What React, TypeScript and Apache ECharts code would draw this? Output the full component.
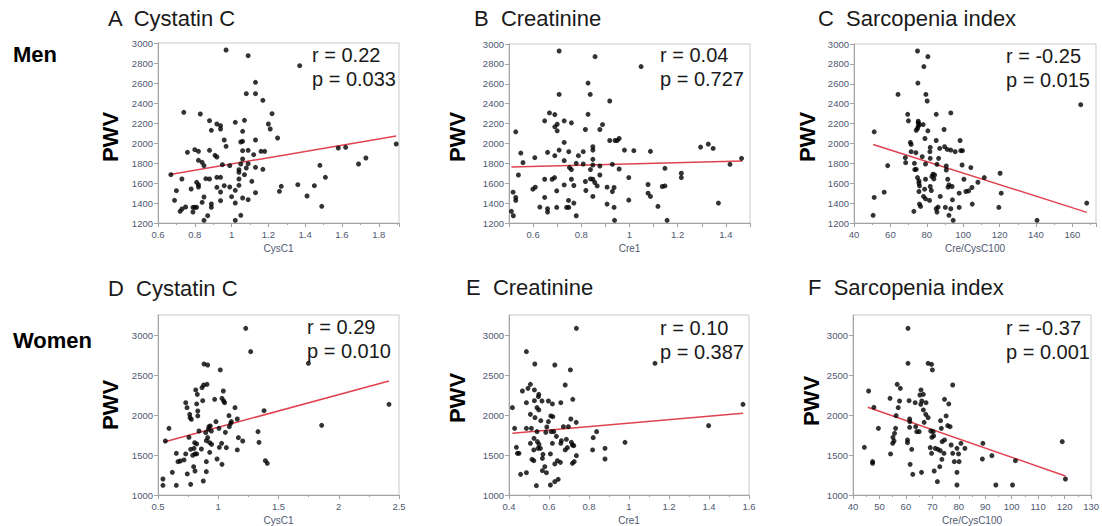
import React, { useEffect, useRef } from "react";
import * as echarts from "echarts";

// ---------- data ----------
const menCysC: number[][] = [[0.97,2930],[1.09,2873],[1.37,2773],[1.13,2607],[1.08,2493],[1.13,2493],[1.17,2427],[0.74,2307],[0.83,2290],[1.22,2293],[1.07,2227],[0.88,2223],[0.92,2190],[0.94,2173],[0.94,2140],[0.89,2127],[1.02,2207],[1.2,2190],[1.21,2140],[1.06,2117],[1.25,2050],[0.96,2030],[1.13,2030],[1.06,2017],[1.05,2010],[0.97,1967],[0.76,1907],[0.8,1933],[0.82,1917],[0.88,1927],[1.06,1923],[1.09,1927],[1.16,1917],[1.18,1917],[0.91,1877],[0.92,1860],[1.12,1883],[0.82,1827],[0.84,1807],[0.85,1773],[0.95,1783],[0.99,1773],[1.06,1840],[1.05,1790],[1.09,1793],[1.08,1750],[1.13,1757],[1.17,1737],[1.04,1707],[1.04,1733],[1.07,1683],[0.67,1683],[0.73,1640],[0.86,1643],[0.88,1640],[0.92,1657],[0.94,1657],[1.04,1640],[1.11,1617],[0.81,1607],[0.82,1583],[0.82,1560],[0.78,1540],[0.92,1557],[0.96,1573],[0.99,1560],[1.04,1577],[0.7,1523],[0.94,1510],[1.02,1527],[1.13,1503],[1.26,1517],[1.27,1567],[1.36,1583],[1.45,1573],[1.51,1657],[1.48,1777],[1.58,1950],[1.62,1957],[1.69,1790],[1.73,1850],[1.895,1990],[1.41,1470],[1.49,1367],[0.69,1427],[0.85,1460],[0.94,1423],[1.0,1463],[1.06,1450],[1.09,1433],[0.84,1407],[1.02,1400],[0.89,1390],[0.89,1357],[0.75,1360],[0.73,1340],[0.72,1317],[0.79,1357],[0.8,1357],[0.81,1357],[0.79,1310],[0.87,1273],[1.05,1277],[0.85,1227],[1.02,1227]];
const menCysCFit: number[][] = [[0.665,1685],[1.895,2070]];

const menCre: number[][] = [[0.708,2930],[0.857,2873],[1.048,2773],[0.828,2607],[0.708,2493],[0.837,2493],[0.918,2427],[0.668,2307],[0.69,2290],[0.828,2293],[0.648,2227],[0.729,2227],[0.759,2207],[0.7,2193],[0.69,2167],[0.7,2127],[0.888,2190],[0.817,2140],[0.877,2140],[0.528,2117],[0.918,2030],[0.729,2010],[0.94,2030],[0.957,2050],[0.949,2030],[0.848,1967],[0.848,1933],[0.979,1933],[1.018,1927],[1.087,1920],[0.708,1933],[0.66,1910],[0.748,1917],[0.808,1917],[0.549,1903],[0.607,1857],[0.69,1877],[0.788,1877],[1.295,1963],[1.327,1993],[1.347,1950],[1.465,1850],[1.417,1790],[0.558,1807],[0.729,1827],[0.779,1800],[0.808,1793],[0.848,1840],[0.848,1783],[0.929,1790],[0.877,1773],[0.751,1757],[0.759,1737],[0.838,1737],[0.957,1743],[1.147,1750],[0.877,1683],[0.539,1683],[1.215,1700],[1.215,1657],[0.997,1657],[0.648,1640],[0.679,1640],[0.689,1657],[0.759,1640],[0.817,1617],[0.838,1643],[0.848,1640],[0.856,1607],[0.866,1573],[0.729,1583],[0.769,1577],[1.077,1587],[1.136,1567],[1.147,1573],[0.599,1540],[0.609,1560],[0.698,1523],[0.819,1527],[0.907,1560],[0.936,1557],[0.929,1517],[1.077,1500],[1.087,1467],[0.517,1510],[0.528,1457],[0.528,1427],[0.648,1457],[0.848,1467],[0.997,1430],[0.747,1427],[0.769,1400],[0.907,1390],[1.118,1367],[1.369,1400],[0.628,1360],[0.66,1343],[0.66,1310],[0.698,1357],[0.739,1357],[0.748,1357],[0.936,1357],[0.51,1317],[0.518,1273],[0.779,1273],[0.938,1227],[1.156,1227]];
const menCreFit: number[][] = [[0.51,1763],[1.468,1823]];

const menIndex: number[][] = [[74.9,2930],[80.6,2873],[78.4,2773],[75.1,2607],[64.2,2493],[79.5,2493],[80.2,2427],[164.6,2390],[69.5,2293],[85.2,2293],[93.2,2307],[69.9,2227],[75.3,2223],[75.3,2207],[76,2190],[78,2190],[75.3,2173],[74.9,2150],[74.2,2133],[80.6,2127],[89.5,2140],[51.1,2117],[79,2050],[85.2,2030],[98.3,2030],[71,2010],[71.4,1990],[81.9,1960],[87.1,1950],[89.8,1967],[91.3,1940],[93.2,1933],[95.6,1917],[98.7,1927],[99.6,1927],[71.4,1917],[74,1907],[81.7,1917],[77.5,1867],[68.2,1857],[81.9,1850],[86.5,1850],[68.4,1807],[73.2,1800],[79.3,1793],[58.5,1777],[85.6,1790],[90.7,1773],[99.4,1783],[73.4,1737],[74.2,1740],[90.7,1733],[104.2,1757],[120.3,1700],[111.6,1657],[83.4,1690],[84.3,1683],[82.8,1667],[74.9,1657],[79.3,1640],[83.9,1643],[75.7,1623],[91.5,1640],[100.4,1640],[75.7,1600],[76,1573],[92.2,1583],[93.9,1567],[91.7,1560],[108.1,1610],[104.8,1557],[81.9,1567],[78.8,1540],[82.5,1527],[75.7,1517],[56.6,1510],[101.5,1517],[103,1523],[97.8,1500],[120.9,1500],[78.2,1467],[79.3,1443],[87.4,1467],[94.1,1433],[51.1,1457],[81.5,1427],[105,1390],[76,1390],[76.6,1367],[86.2,1360],[85.2,1343],[85.6,1310],[90.2,1357],[93.2,1343],[97.8,1357],[119.6,1357],[167.9,1400],[72.9,1317],[50.5,1277],[92.2,1277],[94.5,1227],[140.6,1227]];
const menIndexFit: number[][] = [[50.5,1990],[168,1307]];

const womenCysC: number[][] = [[1.228,3083],[1.269,2792],[1.748,2646],[0.882,2637],[0.912,2625],[1.017,2563],[0.813,2313],[1.042,2300],[0.865,2342],[0.879,2375],[0.907,2383],[0.826,2258],[0.73,2154],[0.821,2138],[0.871,2179],[0.97,2196],[1.031,2208],[1.045,2175],[1.053,2154],[1.139,2092],[0.741,2092],[0.83,2050],[1.38,2054],[2.417,2133],[0.763,2008],[0.83,1988],[0.777,1946],[0.766,1967],[1.089,1992],[1.158,1950],[0.981,1917],[1.109,1917],[0.591,1833],[0.923,1854],[0.934,1863],[1.006,1833],[1.092,1854],[1.103,1896],[1.858,1871],[0.84,1800],[0.896,1779],[0.918,1821],[0.943,1800],[1.059,1783],[1.33,1792],[0.561,1675],[0.757,1721],[0.804,1654],[0.821,1638],[0.901,1679],[0.912,1717],[0.929,1654],[0.945,1633],[1.028,1646],[1.167,1717],[1.203,1675],[1.338,1658],[1.067,1592],[1.009,1596],[1.158,1563],[0.771,1571],[0.799,1583],[0.86,1575],[0.807,1513],[0.821,1513],[0.788,1496],[0.73,1513],[0.652,1521],[0.929,1533],[0.685,1425],[0.716,1438],[0.666,1417],[0.901,1417],[0.99,1450],[0.796,1354],[1.031,1383],[1.391,1429],[1.407,1396],[0.619,1283],[0.743,1263],[0.807,1300],[0.901,1292],[0.541,1200],[0.541,1121],[0.652,1121],[0.771,1133],[0.876,1175]];
const womenCysCFit: number[][] = [[0.55,1662],[2.417,2425]];

const womenCre: number[][] = [[0.737,3083],[0.487,2792],[1.13,2646],[0.529,2637],[0.629,2625],[0.707,2563],[0.681,2375],[0.507,2383],[0.495,2333],[0.527,2313],[0.467,2300],[0.549,2258],[0.547,2229],[0.719,2196],[0.527,2179],[0.565,2175],[0.487,2154],[0.597,2175],[0.617,2138],[0.659,2154],[0.417,2092],[0.54,2092],[0.549,2063],[0.507,2008],[0.609,1988],[0.619,1979],[0.53,1967],[0.709,1950],[0.559,1929],[0.736,1908],[0.597,1917],[0.428,1833],[0.487,1833],[0.512,1833],[0.589,1850],[0.672,1854],[0.697,1854],[0.838,1792],[0.54,1792],[0.584,1783],[0.611,1792],[0.624,1792],[1.398,1867],[1.57,2133],[0.525,1708],[0.637,1733],[0.821,1717],[0.687,1696],[0.662,1679],[0.712,1658],[0.98,1658],[0.507,1646],[0.542,1667],[0.55,1633],[0.617,1646],[0.659,1646],[0.717,1625],[0.692,1592],[0.681,1563],[0.724,1617],[0.437,1596],[0.545,1583],[0.557,1583],[0.524,1563],[0.818,1563],[0.88,1583],[0.442,1521],[0.45,1521],[0.57,1508],[0.607,1513],[0.737,1492],[0.515,1446],[0.524,1429],[0.642,1429],[0.657,1408],[0.726,1417],[0.717,1396],[0.88,1450],[0.567,1458],[0.629,1388],[0.579,1354],[0.458,1258],[0.487,1279],[0.567,1304],[0.587,1279],[0.629,1167],[0.646,1196],[0.537,1117],[0.607,1125]];
const womenCreFit: number[][] = [[0.417,1771],[1.57,2021]];

const womenIndex: number[][] = [[60.8,3083],[60.8,2646],[68.4,2646],[69.7,2633],[70,2563],[77.7,2375],[56.7,2383],[57.9,2333],[45.9,2300],[65.7,2313],[66.6,2258],[65.3,2250],[54,2208],[61.2,2179],[63.5,2154],[66,2175],[67.6,2154],[57.6,2175],[65.6,2133],[74.6,2196],[76.2,2138],[47.9,2096],[57.1,2092],[66.6,2063],[67.5,2008],[68.4,1967],[75.2,1988],[56.3,1992],[61.4,1950],[61.5,1917],[66.9,1908],[73.1,1929],[49.6,1833],[56.1,1833],[61.4,1846],[63.7,1854],[64.1,1792],[65,1792],[75.8,1867],[76.7,1854],[73.4,1833],[69.4,1800],[70.3,1792],[55.7,1771],[55.1,1721],[69.8,1721],[70.5,1738],[73.7,1667],[74.6,1688],[55.5,1675],[55,1646],[60.6,1688],[60.6,1654],[80.8,1646],[77.1,1625],[62.2,1571],[69.2,1592],[71.1,1583],[72.1,1571],[79.3,1583],[82.3,1583],[89.1,1646],[44.3,1596],[54.2,1513],[69.7,1521],[73,1554],[74.4,1521],[77.7,1521],[79.9,1513],[92.5,1492],[73.6,1446],[78.3,1417],[80.1,1417],[88.9,1450],[101.4,1429],[119.1,1667],[47.4,1417],[47.4,1396],[61.6,1383],[72.8,1354],[62.6,1258],[65.9,1283],[70.7,1300],[79.3,1283],[71.9,1167],[79.3,1125],[94,1125],[100.3,1125],[120.3,1200]];
const womenIndexFit: number[][] = [[45.6,2096],[120.3,1238]];

const panelTitles = ["A  Cystatin C", "B  Creatinine", "C  Sarcopenia index", "D  Cystatin C", "E  Creatinine", "F  Sarcopenia index"];
const rTexts = ["r = 0.22", "r = 0.04", "r = -0.25", "r = 0.29", "r = 0.10", "r = -0.37"];
const pTexts = ["p = 0.033", "p = 0.727", "p = 0.015", "p = 0.010", "p = 0.387", "p = 0.001"];
const xNames = ["CysC1", "Cre1", "Cre/CysC100", "CysC1", "Cre1", "Cre/CysC100"];
const groupLabels = ["Men", "Women"];
const yName = "PWV";

// ---------- layout ----------
const panels = [
  { data: menCysC, fit: menCysCFit, grid: { left: 158, top: 43, width: 241, height: 180 }, x: { min: 0.6, max: 1.91, interval: 0.2 }, y: { min: 1200, max: 3000, interval: 200 }, title: [108, 18], r: [312, 55], pwv: [110, 137] },
  { data: menCre, fit: menCreFit, grid: { left: 509, top: 44, width: 241, height: 179 }, x: { min: 0.5, max: 1.5, interval: 0.1, even: true }, y: { min: 1200, max: 3000, interval: 200 }, title: [474, 18], r: [660, 55], pwv: [457, 137] },
  { data: menIndex, fit: menIndexFit, grid: { left: 854, top: 44, width: 242, height: 179 }, x: { min: 40, max: 173, interval: 20 }, y: { min: 1200, max: 3000, interval: 200 }, title: [818, 18], r: [1006, 56], pwv: [807, 137] },
  { data: womenCysC, fit: womenCysCFit, grid: { left: 158, top: 315, width: 241, height: 180 }, x: { min: 0.5, max: 2.5, interval: 0.5 }, y: { min: 1000, max: 3250, interval: 500 }, title: [108, 288], r: [307, 327], pwv: [110, 405] },
  { data: womenCre, fit: womenCreFit, grid: { left: 509, top: 315, width: 240, height: 180 }, x: { min: 0.4, max: 1.6, interval: 0.2 }, y: { min: 1000, max: 3250, interval: 500 }, title: [466, 287], r: [660, 328], pwv: [457, 398] },
  { data: womenIndex, fit: womenIndexFit, grid: { left: 853, top: 315, width: 243, height: 180 }, x: { min: 40, max: 130, interval: 10 }, y: { min: 1000, max: 3250, interval: 500 }, title: [808, 287], r: [1006, 328], pwv: [811, 401] },
];
const groupPos = [[13, 54], [13, 340]];

const AXIS_GRAY = "#a3a3a3";
const LABEL_COLOR = "#4e5870";
const TEXT_FONT = "Liberation Sans";

export default function App() {
  const ref = useRef<HTMLDivElement>(null);
  useEffect(() => {
    if (!ref.current) return;
    const chart = echarts.init(ref.current, undefined, { renderer: "svg" });
    const grids: any[] = [];
    const xAxes: any[] = [];
    const yAxes: any[] = [];
    const series: any[] = [];
    const graphics: any[] = [];
    panels.forEach((p, i) => {
      grids.push({ ...p.grid, show: true, borderColor: "#c9c9c9", borderWidth: 1, containLabel: false });
      xAxes.push({
        type: "value", gridIndex: i, min: p.x.min, max: p.x.max, interval: p.x.interval,
        name: xNames[i], nameLocation: "middle", nameGap: 20,
        nameTextStyle: { color: LABEL_COLOR, fontSize: 10, fontFamily: TEXT_FONT },
        axisLine: { show: true, lineStyle: { color: AXIS_GRAY } },
        axisTick: { show: true, length: 4, lineStyle: { color: AXIS_GRAY } },
        minorTick: { show: !p.x.even, splitNumber: 2, length: 2, lineStyle: { color: AXIS_GRAY } },
        splitLine: { show: false },
        axisLabel: {
          color: LABEL_COLOR, fontSize: 9.5, fontFamily: TEXT_FONT, margin: 6,
          showMaxLabel: p.x.even ? undefined : (p.x.max % p.x.interval === 0 ? true : false),
          formatter: (v: number) => {
            const val = Number(v.toFixed(3));
            if (p.x.even) return Math.round(val * 10) % 2 === 0 ? String(val) : "";
            return String(val);
          },
        },
      });
      yAxes.push({
        type: "value", gridIndex: i, min: p.y.min, max: p.y.max, interval: p.y.interval,
        axisLine: { show: true, lineStyle: { color: AXIS_GRAY } },
        axisTick: { show: true, length: 4, lineStyle: { color: AXIS_GRAY } },
        splitLine: { show: false },
        axisLabel: {
          color: LABEL_COLOR, fontSize: 9.5, fontFamily: TEXT_FONT, margin: 5,
          showMaxLabel: p.y.max % p.y.interval === 0,
          formatter: (v: number) => String(v),
        },
      });
      series.push({
        type: "scatter", xAxisIndex: i, yAxisIndex: i, data: p.data, symbolSize: 5,
        itemStyle: { color: "#000" }, clip: false,
      });
      series.push({
        type: "line", xAxisIndex: i, yAxisIndex: i, data: p.fit, symbol: "none",
        lineStyle: { color: "#e0424f", width: 1.5 }, z: 1,
      });
      graphics.push({ type: "text", x: p.title[0], y: p.title[1], style: { text: panelTitles[i], font: `22px "${TEXT_FONT}"`, fill: "#1a1a1a", align: "left", verticalAlign: "middle" } });
      graphics.push({ type: "text", x: p.r[0], y: p.r[1], style: { text: rTexts[i], font: `20px "${TEXT_FONT}"`, fill: "#1a1a1a", align: "left", verticalAlign: "middle" } });
      graphics.push({ type: "text", x: p.r[0], y: p.r[1] + 24, style: { text: pTexts[i], font: `20px "${TEXT_FONT}"`, fill: "#1a1a1a", align: "left", verticalAlign: "middle" } });
      graphics.push({ type: "text", x: p.pwv[0], y: p.pwv[1], rotation: Math.PI / 2, style: { text: yName, font: `bold 22px "${TEXT_FONT}"`, fill: "#000", align: "center", verticalAlign: "middle" } });
    });
    groupLabels.forEach((g, i) => {
      graphics.push({ type: "text", x: groupPos[i][0], y: groupPos[i][1], style: { text: g, font: `bold 22px "${TEXT_FONT}"`, fill: "#000", align: "left", verticalAlign: "middle" } });
    });
    chart.setOption({
      animation: false,
      backgroundColor: "#fff",
      grid: grids,
      xAxis: xAxes,
      yAxis: yAxes,
      series,
      graphic: graphics,
    });
    return () => chart.dispose();
  }, []);
  return <div ref={ref} style={{ position: "absolute", left: 0, top: 0, width: 1102, height: 526 }} />;
}
